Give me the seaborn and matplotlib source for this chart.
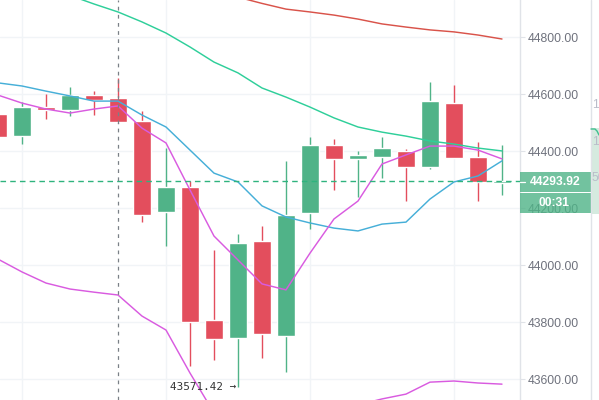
import matplotlib
matplotlib.use("Agg")
import matplotlib.pyplot as plt
from matplotlib.patches import Rectangle
import seaborn as sns

# candles, one entry per bar
opens = [44531, 44453, 44555, 44545, 44597, 44587, 44506, 44186, 44274, 43807, 43744,
         44085, 43751, 44183, 44422, 44373, 44380, 44401, 44345, 44569, 44380, 44290]
highs = [44545, 44573, 44601, 44625, 44611, 44657, 44541, 44411, 44295, 44053, 44109,
         44137, 44366, 44450, 44443, 44401, 44450, 44408, 44643, 44632, 44432, 44422]
lows = [44432, 44425, 44513, 44524, 44527, 44499, 44151, 44067, 43646, 43667, 43571.42,
        43674, 43625, 44127, 44264, 44239, 44306, 44225, 44337, 44376, 44225, 44246]
closes = [44450, 44555, 44545, 44597, 44580, 44503, 44176, 44274, 43800, 43740, 44078,
          43758, 44176, 44422, 44373, 44387, 44411, 44345, 44576, 44376, 44292, 44293.92]

# moving averages and bands (first bar index, values)
teal_start = 3
teal_ma = [44947, 44917, 44889, 44854, 44815, 44766, 44713, 44675, 44622, 44590, 44555,
           44517, 44485, 44467, 44453, 44436, 44425, 44411, 44401]
red_start = 10
red_ma = [44941, 44919, 44899, 44889, 44878, 44864, 44847, 44836, 44826, 44819, 44808, 44794]
blue_start = 0
blue_ma = [44640, 44629, 44611, 44594, 44576, 44576, 44527, 44485, 44404, 44323, 44292,
           44208, 44169, 44148, 44130, 44120, 44144, 44151, 44232, 44292, 44313, 44366]
band_start = 0
band_mid = [44597, 44569, 44548, 44534, 44548, 44559, 44481, 44429, 44264, 44102, 44018,
            43934, 43913, 44042, 44162, 44225, 44355, 44387, 44418, 44418, 44404, 44373]
low_a_start = 0
band_low_a = [44021, 43976, 43937, 43916, 43905, 43895, 43821, 43772, 43621, 43481]
low_b_start = 15
band_low_b = [43509, 43530, 43547, 43589, 43593, 43586, 43582]

price_ticks = [43600, 43800, 44000, 44200, 44400, 44600, 44800]
last_price = 44293.92
low_price = 43571.42
timer_text = "00:31"
side_labels = ["150", "100", "50"]

RED = "#e34e5d"
GREEN = "#50b388"
GRID = "#f1f4f7"
AXIS = "#e0e3e8"

sns.set_theme(style="white")
plt.rcParams["font.family"] = ["Liberation Sans", "DejaVu Sans"]

fig = plt.figure(figsize=(5.99, 4), dpi=100)
ax = fig.add_axes([0, 0, 519.5 / 599, 1])

# candles
for i in range(len(opens)):
    col = GREEN if closes[i] >= opens[i] else RED
    ax.vlines(i, lows[i], highs[i], color=col, lw=1.0, zorder=2)
    body = max(abs(closes[i] - opens[i]), 3)
    ax.bar(i, body, width=0.71, bottom=min(opens[i], closes[i]), color=col, zorder=2)


def draw_line(start, values, color):
    xs = list(range(start, start + len(values)))
    sns.lineplot(x=xs, y=values, color=color, lw=1.05, errorbar=None, legend=False, ax=ax, zorder=3)


draw_line(teal_start, teal_ma, "#2fcf9a")
draw_line(red_start, red_ma, "#d9534a")
draw_line(blue_start, blue_ma, "#46afd8")
draw_line(band_start, band_mid, "#d95be0")
draw_line(low_a_start, band_low_a, "#d95be0")
draw_line(low_b_start, band_low_b, "#d95be0")

# price line and crosshair
ax.axhline(last_price, color="#2fb37e", lw=1.0, ls=(0, (4, 3)), zorder=4)
ax.axvline(5, color="#7a8087", lw=0.9, ls=(0, (3, 3.5)), zorder=4)

# arrow label of the lowest price
ax.text(9.92, low_price, f"{low_price:.2f} →", ha="right", va="center",
        family="DejaVu Sans Mono", fontsize=7.9, color="#333333", zorder=5)

ax.set_xlim(0.083, 21.73)
ax.set_ylim(43526.3, 44931)
ax.set_xticks([1, 7, 13, 19])
ax.set_xticklabels([])
ax.set_yticks(price_ticks)
ax.set_yticklabels([f"{p:.2f}" for p in price_ticks])
ax.yaxis.tick_right()
ax.tick_params(axis="y", length=3.6, width=0.8, color=AXIS, pad=2.5, labelsize=8.7, labelcolor="#6f727d")
ax.tick_params(axis="x", length=0)
ax.grid(True, color=GRID, lw=1)
ax.set_axisbelow(True)
for side in ["top", "left", "bottom"]:
    ax.spines[side].set_visible(False)
ax.spines["right"].set_color(AXIS)
ax.spines["right"].set_linewidth(1)

# overlay in pixels for the price scale labels and the side panel
over = fig.add_axes([0, 0, 1, 1])
over.set_xlim(0, 599)
over.set_ylim(400, 0)
over.axis("off")
over.add_patch(Rectangle((519.5, 172), 71, 20, color="#4fb387", alpha=0.8, lw=0))
over.add_patch(Rectangle((519.5, 193), 71, 20, color="#4fb387", alpha=0.8, lw=0))
over.plot([520, 525], [182, 182], color="white", lw=0.9)
over.text(555, 182, f"{last_price:.2f}", color="white", fontsize=8.7, fontweight="bold", ha="center", va="center")
over.text(554, 203, timer_text, color="white", fontsize=8.7, fontweight="bold", ha="center", va="center")
over.plot([590.5, 590.5], [0, 400], color=AXIS, lw=1)
over.add_patch(Rectangle((591, 128), 8, 86, color="#d5eadf", lw=0))
over.plot([591, 595, 597, 599], [129, 129, 131, 135], color="#3fbf8f", lw=1)
for label, y in zip(side_labels, [105, 142, 178]):
    over.text(592, y, label, color="#b9bcc9", fontsize=8.7, ha="left", va="center", clip_on=True)

fig.savefig("out.png", dpi=100)
